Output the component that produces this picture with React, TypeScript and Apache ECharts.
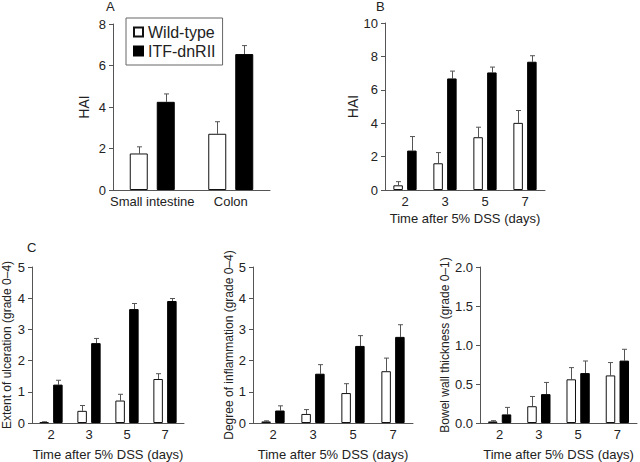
import React, { useEffect, useRef } from "react";
import * as echarts from "echarts";

// Panel A
const catA = ["Small intestine", "Colon"];
const wtA = [1.76, 2.71];
const wtErrA = [0.32, 0.58];
const itfA = [4.25, 6.55];
const itfErrA = [0.38, 0.41];

// Panels B and C share days
const days = ["2", "3", "5", "7"];

// Panel B (HAI)
const wtB = [0.28, 1.6, 3.16, 4.02];
const wtErrB = [0.22, 0.64, 0.6, 0.74];
const itfB = [2.36, 6.68, 7.04, 7.68];
const itfErrB = [0.84, 0.44, 0.32, 0.36];

// Panel C1 (ulceration)
const wtC1 = [0.03, 0.39, 0.72, 1.41];
const wtErrC1 = [0.01, 0.17, 0.2, 0.17];
const itfC1 = [1.23, 2.56, 3.65, 3.91];
const itfErrC1 = [0.14, 0.15, 0.18, 0.08];

// Panel C2 (inflammation)
const wtC2 = [0.05, 0.29, 0.96, 1.66];
const wtErrC2 = [0.02, 0.14, 0.3, 0.42];
const itfC2 = [0.4, 1.58, 2.47, 2.76];
const itfErrC2 = [0.15, 0.29, 0.33, 0.39];

// Panel C3 (bowel wall thickness)
const wtC3 = [0.02, 0.215, 0.56, 0.61];
const wtErrC3 = [0.01, 0.125, 0.15, 0.165];
const itfC3 = [0.11, 0.37, 0.64, 0.8];
const itfErrC3 = [0.09, 0.15, 0.155, 0.145];

const FONT = "'Liberation Sans', Arial, Helvetica, sans-serif";
const AXIS_COLOR = "#555";
const TEXT_COLOR = "#222";
const ERR_COLOR = "#555";

type Panel = {
  cats: string[];
  wt: number[];
  wtErr: number[];
  itf: number[];
  itfErr: number[];
  grid: { left: number; top: number; width: number; height: number };
  yMax: number;
  yInterval: number;
  yName: string;
  yNameGap: number;
  yNameSize: number;
  xName: string;
  xNameGap: number;
  barWidth: number;
  barGap: string;
  offset: number;
  decimals: number;
};

const panels: Panel[] = [
  {
    cats: catA, wt: wtA, wtErr: wtErrA, itf: itfA, itfErr: itfErrA,
    grid: { left: 113, top: 24, width: 157, height: 166 },
    yMax: 8, yInterval: 2, yName: "HAI", yNameGap: 22, yNameSize: 14,
    xName: "", xNameGap: 22, barWidth: 18, barGap: "50%", offset: 13.5, decimals: 0,
  },
  {
    cats: days, wt: wtB, wtErr: wtErrB, itf: itfB, itfErr: itfErrB,
    grid: { left: 385, top: 23, width: 160, height: 167 },
    yMax: 10, yInterval: 2, yName: "HAI", yNameGap: 21, yNameSize: 14,
    xName: "Time after 5% DSS (days)", xNameGap: 22, barWidth: 9.5, barGap: "45%", offset: 6.9, decimals: 0,
  },
  {
    cats: days, wt: wtC1, wtErr: wtErrC1, itf: itfC1, itfErr: itfErrC1,
    grid: { left: 31, top: 267, width: 153, height: 164 },
    yMax: 5, yInterval: 1, yName: "Extent of ulceration (grade 0–4)", yNameGap: 19, yNameSize: 12,
    xName: "Time after 5% DSS (days)", xNameGap: 25, barWidth: 9.5, barGap: "45%", offset: 6.9, decimals: 0,
  },
  {
    cats: days, wt: wtC2, wtErr: wtErrC2, itf: itfC2, itfErr: itfErrC2,
    grid: { left: 253, top: 267, width: 160, height: 164 },
    yMax: 5, yInterval: 1, yName: "Degree of inflammation (grade 0–4)", yNameGap: 18, yNameSize: 12,
    xName: "Time after 5% DSS (days)", xNameGap: 25, barWidth: 9.5, barGap: "45%", offset: 6.9, decimals: 0,
  },
  {
    cats: days, wt: wtC3, wtErr: wtErrC3, itf: itfC3, itfErr: itfErrC3,
    grid: { left: 480, top: 267, width: 157, height: 164 },
    yMax: 2, yInterval: 0.5, yName: "Bowel wall thickness (grade 0–1)", yNameGap: 27, yNameSize: 12,
    xName: "Time after 5% DSS (days)", xNameGap: 25, barWidth: 9.5, barGap: "45%", offset: 6.9, decimals: 1,
  },
];

function errSeries(idx: number, means: number[], errs: number[], offset: number) {
  return {
    type: "custom",
    xAxisIndex: idx,
    yAxisIndex: idx,
    z: 1,
    silent: true,
    data: means.map((m, i) => [i, m, m + errs[i]]),
    renderItem: (params: any, api: any) => {
      const base = api.coord([api.value(0), api.value(1)]);
      const top = api.coord([api.value(0), api.value(2)]);
      const x = Math.round(base[0] + offset) + 0.5;
      const cap = 2.5;
      return {
        type: "group",
        children: [
          {
            type: "line",
            shape: { x1: x, y1: base[1], x2: x, y2: top[1] },
            style: { stroke: ERR_COLOR, lineWidth: 1 },
          },
          {
            type: "line",
            shape: { x1: x - cap, y1: top[1], x2: x + cap, y2: top[1] },
            style: { stroke: ERR_COLOR, lineWidth: 1 },
          },
        ],
      };
    },
  };
}

export default function App() {
  const ref = useRef<HTMLDivElement>(null);
  useEffect(() => {
    if (!ref.current) return;
    const chart = echarts.init(ref.current, null, { renderer: "svg" });
    const grids: any[] = [];
    const xAxes: any[] = [];
    const yAxes: any[] = [];
    const series: any[] = [];
    panels.forEach((p, i) => {
      grids.push({ ...p.grid, containLabel: false });
      xAxes.push({
        type: "category",
        gridIndex: i,
        data: p.cats,
        axisLine: { lineStyle: { color: AXIS_COLOR, width: 1 } },
        axisTick: { show: false },
        axisLabel: { color: TEXT_COLOR, fontSize: 13, fontFamily: FONT, margin: 5, interval: 0 },
        name: p.xName,
        nameLocation: "middle",
        nameGap: p.xNameGap,
        nameTextStyle: { color: TEXT_COLOR, fontSize: 13, fontFamily: FONT },
      });
      yAxes.push({
        type: "value",
        gridIndex: i,
        min: 0,
        max: p.yMax,
        interval: p.yInterval,
        splitLine: { show: false },
        axisLine: { show: true, lineStyle: { color: AXIS_COLOR, width: 1 } },
        axisTick: { show: true, length: 4, lineStyle: { color: AXIS_COLOR } },
        axisLabel: {
          color: TEXT_COLOR,
          fontSize: 13,
          fontFamily: FONT,
          margin: 7,
          formatter: (v: number) => v.toFixed(p.decimals),
        },
        name: p.yName,
        nameLocation: "middle",
        nameGap: p.yNameGap,
        nameTextStyle: { color: TEXT_COLOR, fontSize: p.yNameSize, fontFamily: FONT },
      });
      series.push({
        type: "bar",
        name: "Wild-type",
        xAxisIndex: i,
        yAxisIndex: i,
        data: p.wt,
        barWidth: p.barWidth,
        barGap: p.barGap,
        itemStyle: { color: "#fff", borderColor: "#111", borderWidth: 1 },
        z: 2,
      });
      series.push({
        type: "bar",
        name: "ITF-dnRII",
        xAxisIndex: i,
        yAxisIndex: i,
        data: p.itf,
        barWidth: p.barWidth,
        barGap: p.barGap,
        itemStyle: { color: "#000", borderColor: "#000", borderWidth: 1 },
        z: 2,
      });
      series.push(errSeries(i, p.wt, p.wtErr, -p.offset));
      series.push(errSeries(i, p.itf, p.itfErr, p.offset));
    });

    chart.setOption({
      animation: false,
      backgroundColor: "#fff",
      textStyle: { fontFamily: FONT },
      grid: grids,
      xAxis: xAxes,
      yAxis: yAxes,
      series,
      legend: {
        data: ["Wild-type", "ITF-dnRII"],
        orient: "vertical",
        left: 126,
        top: 18,
        padding: [6, 7, 6, 7],
        icon: "rect",
        itemWidth: 9,
        itemHeight: 9,
        itemGap: 3,
        borderColor: "#666",
        borderWidth: 1,
        backgroundColor: "#fff",
        selectedMode: false,
        textStyle: { color: TEXT_COLOR, fontSize: 16, fontFamily: FONT, lineHeight: 16 },
      },
      graphic: [
        { type: "text", left: 106, top: 0, style: { text: "A", fontSize: 13, fontFamily: FONT, fill: TEXT_COLOR } },
        { type: "text", left: 376, top: 0, style: { text: "B", fontSize: 13, fontFamily: FONT, fill: TEXT_COLOR } },
        { type: "text", left: 27, top: 241, style: { text: "C", fontSize: 13, fontFamily: FONT, fill: TEXT_COLOR } },
      ],
    });
    return () => chart.dispose();
  }, []);
  return <div ref={ref} style={{ width: 640, height: 462, position: "absolute", left: 0, top: 0 }} />;
}
